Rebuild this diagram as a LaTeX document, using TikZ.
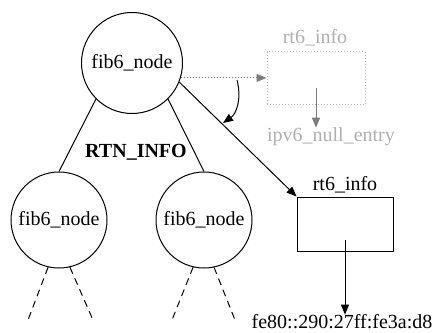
\documentclass[tikz,border=0pt]{standalone}
\usepackage{fontspec}
\newfontfamily\graphfont{Liberation Serif}
\usetikzlibrary{arrows.meta}
\definecolor{lightgrey}{RGB}{175,175,175}
\definecolor{midgrey}{RGB}{125,125,125}

\begin{document}
\begin{tikzpicture}[
		x=1pt, y=-1pt,
		font=\graphfont\fontsize{20}{22}\selectfont,
		treenode/.style={circle, draw, line width=1pt, inner sep=0pt},
		infobox/.style={rectangle, draw, line width=1pt, minimum width=96pt, minimum height=54pt},
		ghostbox/.style={rectangle, draw=lightgrey, dotted, line width=1pt, minimum width=98pt, minimum height=53pt},
		label/.style={inner sep=0pt},
		arrow/.style={-{Triangle[length=10pt,width=8pt]}, line width=1pt},
		ghostarrow/.style={-{Triangle[length=10pt,width=8pt]}, line width=1pt, draw=midgrey, fill=midgrey},
		subtree/.style={line width=1pt, dash pattern=on 7pt off 5pt}
	]
		\useasboundingbox (0,0) rectangle (438,332);

		% Tree
		\node[treenode, minimum size=101pt] (root) at (132,63) {fib6\_node};
		\node[treenode, minimum size=96pt] (left) at (59,220) {fib6\_node};
		\node[treenode, minimum size=96pt] (right) at (204,220) {fib6\_node};
		\draw[line width=1pt] (root.225) -- (left.north);
		\draw[line width=1pt] (root.-45) -- (right.north);
		\node[label, font=\graphfont\fontsize{20}{22}\selectfont\bfseries] (rtninfo) at (136,152) {RTN\_INFO};

		% Subtrees below
		\coordinate (ll) at (28,320);
		\coordinate (lr) at (93,320);
		\coordinate (rl) at (172,320);
		\coordinate (rr) at (235,320);
		\draw[subtree] (left.-103) -- (ll);
		\draw[subtree] (left.-77) -- (lr);
		\draw[subtree] (right.-103) -- (rl);
		\draw[subtree] (right.-78) -- (rr);

		% Old route info
		\node[ghostbox] (oldinfo) at (316,78) {};
		\node[label, text=lightgrey] (oldname) at (315,38) {rt6\_info};
		\node[label, text=lightgrey] (nullentry) at (331,137) {ipv6\_null\_entry};
		\coordinate (oldptr) at (316,88);
		\draw[ghostarrow, dotted] (root.-17) -- (root.-17 -| oldinfo.west);
		\draw[ghostarrow] (oldptr) -- (oldptr |- nullentry.north);

		% New route info
		\node[infobox] (newinfo) at (345,224) {};
		\node[label] (newname) at (345,185) {rt6\_info};
		\node[label] (addr) at (342,322) {fe80::290:27ff:fe3a:d8};
		\coordinate (newptr) at (345,240);
		\draw[arrow] (root.-22) -- (newinfo.north west);
		\draw[arrow] (newptr) -- (newptr |- addr.north);

		% Swap
		\coordinate (swapfrom) at (237,80);
		\coordinate (swapto) at (223,123);
		\draw[arrow] (swapfrom) .. controls (242,100) and (236,114) .. (swapto);
	\end{tikzpicture}
\end{document}
